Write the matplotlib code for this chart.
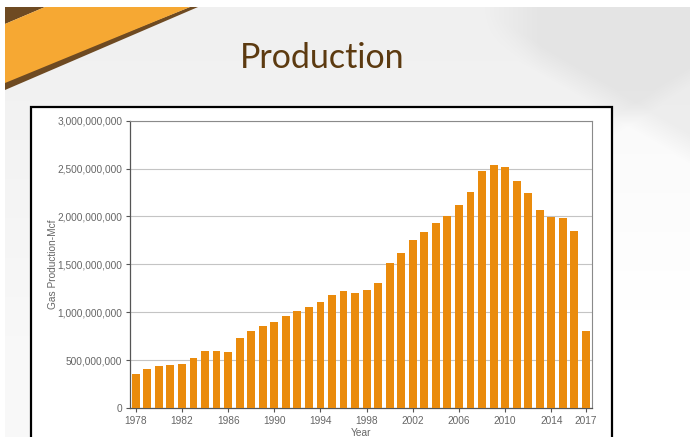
import matplotlib
matplotlib.use("Agg")
import matplotlib.pyplot as plt
from matplotlib.patches import Polygon, Rectangle
from matplotlib.ticker import FuncFormatter, MultipleLocator
import numpy as np

years = list(range(1978, 2018))
production = [354e6, 410e6, 441e6, 451e6, 462e6, 524e6, 597e6, 597e6, 587e6, 733e6,
              806e6, 861e6, 896e6, 962e6, 1017e6, 1052e6, 1104e6, 1177e6, 1222e6, 1198e6,
              1233e6, 1306e6, 1510e6, 1622e6, 1750e6, 1840e6, 1934e6, 2003e6, 2115e6, 2257e6,
              2476e6, 2538e6, 2521e6, 2375e6, 2247e6, 2066e6, 1997e6, 1983e6, 1851e6, 809e6]
xtick_years = [1978, 1982, 1986, 1990, 1994, 1998, 2002, 2006, 2010, 2014, 2017]
title_text = "Production"
ylabel_text = "Gas Production-Mcf"
xlabel_text = "Year"

W, H = 690, 437
fig = plt.figure(figsize=(W / 100, H / 100), dpi=100)
fig.patch.set_facecolor("white")

def P(pts):
    return [(x / W, 1 - y / H) for x, y in pts]

# slide background as soft gradient image
yy, xx = np.mgrid[0:H, 0:W].astype(float)
g = 0.945 + 0.03 * np.clip((yy - 60) / 300, 0, 1)
tr = np.clip((xx - 480) / 60, 0, 1) * np.clip((110 - yy + (xx - 600) * 0.6) / 30, 0, 1)
g = g - 0.05 * tr
lr = np.clip((yy - (115 - (xx - 615) * 0.65)) / 20, 0, 1) * (xx > 612)
g = g + 0.03 * lr
g = np.clip(g, 0, 1)
img = np.dstack([g, g, g])
img[:7, :, :] = 1.0
img[:, :5, :] = 1.0
bg = fig.add_axes([0, 0, 1, 1], zorder=0)
bg.imshow(img, extent=[0, W, H, 0], aspect="auto", interpolation="bilinear")
bg.set_xlim(0, W)
bg.set_ylim(H, 0)
bg.axis("off")

fig.add_artist(Polygon(P([(5, 7), (45, 7), (5, 24)]), closed=True, transform=fig.transFigure,
                       facecolor="#6e4a22", edgecolor="none", zorder=1))
fig.add_artist(Polygon(P([(5, 81), (190, 7), (198, 7), (5, 90)]), closed=True,
                       transform=fig.transFigure, facecolor="#6e4a22", edgecolor="none", zorder=1))
fig.add_artist(Polygon(P([(5, 24), (45, 7), (190, 7), (5, 83)]), closed=True,
                       transform=fig.transFigure, facecolor="#f6a833", edgecolor="none", zorder=2))

fig.text(322 / W, 1 - 57.5 / H, title_text, ha="center", va="center", fontsize=24.5,
         family="Lato", color="#5c3a10", zorder=2)

fig.add_artist(Rectangle((31 / W, -0.01), (612 - 31) / W, (437 - 107) / H + 0.01,
                         transform=fig.transFigure, facecolor="white", edgecolor="black",
                         linewidth=1.6, zorder=3))

ax = fig.add_axes([130 / W, (437 - 408) / H, (591.7 - 130) / W, (408 - 120.7) / H], zorder=5)
ax.set_facecolor("white")
ax.bar(years, production, width=0.68, color="#ea8b0c", zorder=3)
ax.set_xlim(1977.5, 2017.5)
ax.set_ylim(0, 3e9)
ax.yaxis.set_major_locator(MultipleLocator(5e8))
ax.yaxis.set_major_formatter(FuncFormatter(lambda v, p: f"{int(v):,}"))
ax.set_xticks(xtick_years)
ax.set_xticklabels([str(y) for y in xtick_years])
ax.grid(axis="y", color="#c4c4c4", linewidth=0.8, zorder=0)
for s in ["top", "right"]:
    ax.spines[s].set_color("#8a8a8a")
    ax.spines[s].set_linewidth(0.8)
for s in ["left", "bottom"]:
    ax.spines[s].set_color("#555555")
    ax.spines[s].set_linewidth(0.9)
ax.tick_params(axis="both", colors="#555555", labelcolor="#666666", labelsize=7.3,
               length=3, width=0.8, direction="out", pad=2.5)
for lab in ax.get_xticklabels() + ax.get_yticklabels():
    lab.set_family("Liberation Sans")
ax.set_xlabel(xlabel_text, fontsize=7.3, family="Liberation Sans", color="#666666", labelpad=0)
ax.xaxis.set_label_coords(0.5, -0.068)
ax.set_ylabel(ylabel_text, fontsize=7.3, family="Liberation Sans", color="#666666")
ax.yaxis.set_label_coords(-0.157, 0.5)

fig.savefig("out.png", dpi=100)
